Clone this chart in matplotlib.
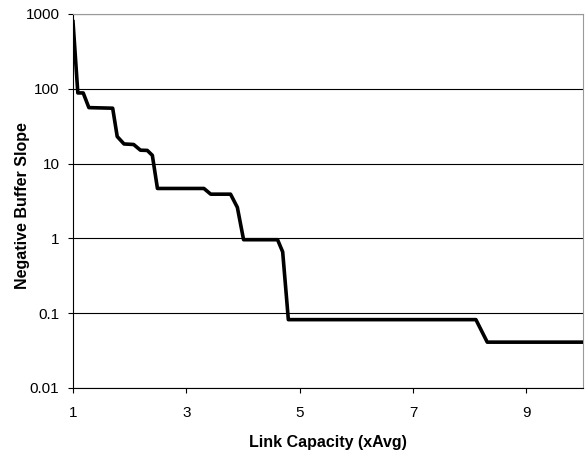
import matplotlib
matplotlib.use('Agg')
from matplotlib import pyplot as plt
from matplotlib.ticker import FixedLocator, FixedFormatter, NullLocator

plt.rcParams['font.family'] = ['Liberation Sans', 'DejaVu Sans']

# link capacity (multiples of average) vs negative buffer slope
capacity = [1.0, 1.085, 1.18, 1.28, 1.70, 1.78, 1.90, 2.07, 2.19, 2.31, 2.40, 2.49,
            3.31, 3.43, 3.78, 3.90, 4.01, 4.61, 4.70, 4.80, 8.11, 8.31, 10.0]
slope = [790, 88, 88, 56, 55, 23, 18.3, 18, 15.1, 15, 12.9, 4.65,
         4.65, 3.9, 3.9, 2.6, 0.96, 0.96, 0.66, 0.082, 0.082, 0.041, 0.041]

y_ticks = [0.01, 0.1, 1, 10, 100, 1000]
y_labels = ['0.01', '0.1', '1', '10', '100', '1000']
x_ticks = [1, 3, 5, 7, 9]

fig = plt.figure(figsize=(5.85, 4.54), dpi=100)
ax = fig.add_axes([0.1248, 0.1454, 0.8718, 0.8238])

ax.plot(capacity, slope, color='black', linewidth=2.6, solid_joinstyle='round', zorder=3)

ax.set_yscale('log')
ax.set_ylim(0.01, 1000)
ax.set_xlim(1, 10)
ax.yaxis.set_major_locator(FixedLocator(y_ticks))
ax.yaxis.set_major_formatter(FixedFormatter(y_labels))
ax.yaxis.set_minor_locator(NullLocator())
ax.set_xticks(x_ticks)
ax.set_xticklabels([str(v) for v in x_ticks])

ax.grid(axis='y', color='black', linewidth=0.8)
ax.tick_params(axis='both', direction='out', length=3.3, width=0.8, labelsize=11, color='black')
ax.tick_params(axis='y', pad=6.5)
ax.tick_params(axis='x', pad=10)
for side in ['top', 'right']:
    ax.spines[side].set_color('#999999')
    ax.spines[side].set_linewidth(0.8)
for side in ['left', 'bottom']:
    ax.spines[side].set_color('black')
    ax.spines[side].set_linewidth(0.8)

ax.set_xlabel('Link Capacity (xAvg)', fontsize=11.5, fontweight='bold')
ax.set_ylabel('Negative Buffer Slope', fontsize=11.5, fontweight='bold')
ax.xaxis.set_label_coords(0.5, -0.127)
ax.yaxis.set_label_coords(-0.084, 0.487)

fig.savefig('out.png', dpi=100)
